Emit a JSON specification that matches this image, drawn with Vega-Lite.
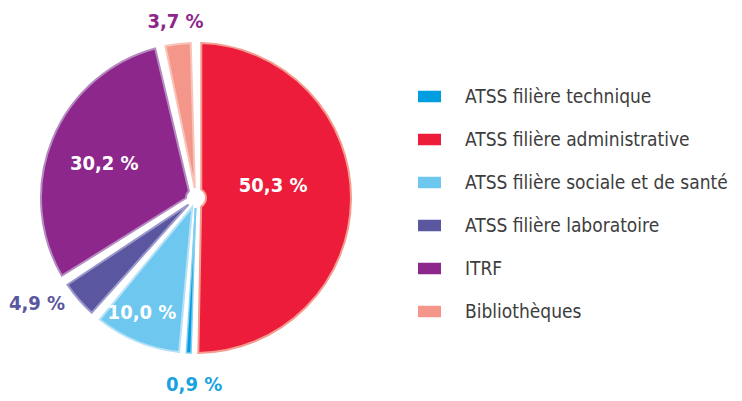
{
  "$schema": "https://vega.github.io/schema/vega-lite/v6.json",
  "autosize": {"type": "none"},
  "width": 382,
  "height": 386,
  "padding": {"left": 5, "top": 5, "right": 355, "bottom": 10},
  "background": "white",
  "config": {"view": {"stroke": null}},
  "data": {"values": [
    {"cat": "ATSS filière administrative", "value": 50.3, "label": "50,3 %", "order": 1},
    {"cat": "ATSS filière technique", "value": 0.9, "label": "0,9 %", "order": 2},
    {"cat": "ATSS filière sociale et de santé", "value": 10.0, "label": "10,0 %", "order": 3},
    {"cat": "ATSS filière laboratoire", "value": 4.9, "label": "4,9 %", "order": 4},
    {"cat": "ITRF", "value": 30.2, "label": "30,2 %", "order": 5},
    {"cat": "Bibliothèques", "value": 3.7, "label": "3,7 %", "order": 6}
  ]},
  "encoding": {
    "theta": {"field": "value", "type": "quantitative", "stack": true},
    "order": {"field": "order", "type": "quantitative"}
  },
  "layer": [
    {
      "mark": {"type": "arc", "radius": 155, "radius2": 10, "padAngle": 0.068, "strokeWidth": 2},
      "encoding": {
        "color": {
          "field": "cat", "type": "nominal",
          "scale": {
            "domain": ["ATSS filière technique", "ATSS filière administrative", "ATSS filière sociale et de santé", "ATSS filière laboratoire", "ITRF", "Bibliothèques"],
            "range": ["#009EE0", "#EC1C3A", "#6DC7EF", "#5A57A0", "#8E278C", "#F4978A"]
          },
          "legend": {
            "title": null,
            "orient": "none",
            "legendX": 413,
            "legendY": 80,
            "symbolType": "M-1,-0.5H1V0.5H-1Z",
            "symbolSize": 529,
            "symbolStrokeWidth": 0,
            "labelFont": "DejaVu Sans Condensed, sans-serif",
            "labelFontSize": 19,
            "labelColor": "#3d3d3d",
            "labelOffset": 24,
            "rowPadding": 21,
            "labelLimit": 400
          }
        },
        "stroke": {
          "field": "cat", "type": "nominal",
          "scale": {
            "domain": ["ATSS filière technique", "ATSS filière administrative", "ATSS filière sociale et de santé", "ATSS filière laboratoire", "ITRF", "Bibliothèques"],
            "range": ["#7ECFF2", "#F39C8F", "#B5E2F8", "#9A98CB", "#B48AC0", "#FAC3B8"]
          },
          "legend": null
        }
      }
    },
    {
      "mark": {"type": "arc", "radius": 155, "radius2": 10, "padAngle": 0.026, "strokeWidth": 1.5, "fill": "#009EE0", "stroke": "#7ECFF2"},
      "encoding": {
        "opacity": {"condition": {"test": "datum.cat === 'ATSS filière technique'", "value": 1}, "value": 0}
      }
    },
    {
      "mark": {"type": "text", "radius": 78, "thetaOffset": -0.16, "font": "DejaVu Sans Condensed, sans-serif", "fontWeight": "bold", "fontSize": 20, "color": "white"},
      "encoding": {"text": {"condition": {"test": "datum.cat === 'ATSS filière administrative'", "field": "label"}, "value": ""}}
    },
    {
      "mark": {"type": "text", "radius": 98, "thetaOffset": -0.03, "font": "DejaVu Sans Condensed, sans-serif", "fontWeight": "bold", "fontSize": 20, "color": "white"},
      "encoding": {"text": {"condition": {"test": "datum.cat === 'ITRF'", "field": "label"}, "value": ""}}
    },
    {
      "mark": {"type": "text", "radius": 127, "thetaOffset": 0.05, "font": "DejaVu Sans Condensed, sans-serif", "fontWeight": "bold", "fontSize": 20, "color": "white"},
      "encoding": {"text": {"condition": {"test": "datum.cat === 'ATSS filière sociale et de santé'", "field": "label"}, "value": ""}}
    },
    {
      "mark": {"type": "text", "radius": 191, "thetaOffset": 0.126, "font": "DejaVu Sans Condensed, sans-serif", "fontWeight": "bold", "fontSize": 20, "color": "#5A57A0"},
      "encoding": {"text": {"condition": {"test": "datum.cat === 'ATSS filière laboratoire'", "field": "label"}, "value": ""}}
    },
    {
      "mark": {"type": "text", "radius": 187, "thetaOffset": -0.037, "font": "DejaVu Sans Condensed, sans-serif", "fontWeight": "bold", "fontSize": 20, "color": "#18A3E0"},
      "encoding": {"text": {"condition": {"test": "datum.cat === 'ATSS filière technique'", "field": "label"}, "value": ""}}
    },
    {
      "mark": {"type": "text", "radius": 177, "thetaOffset": 0, "font": "DejaVu Sans Condensed, sans-serif", "fontWeight": "bold", "fontSize": 20, "color": "#8E278C"},
      "encoding": {"text": {"condition": {"test": "datum.cat === 'Bibliothèques'", "field": "label"}, "value": ""}}
    }
  ]
}
